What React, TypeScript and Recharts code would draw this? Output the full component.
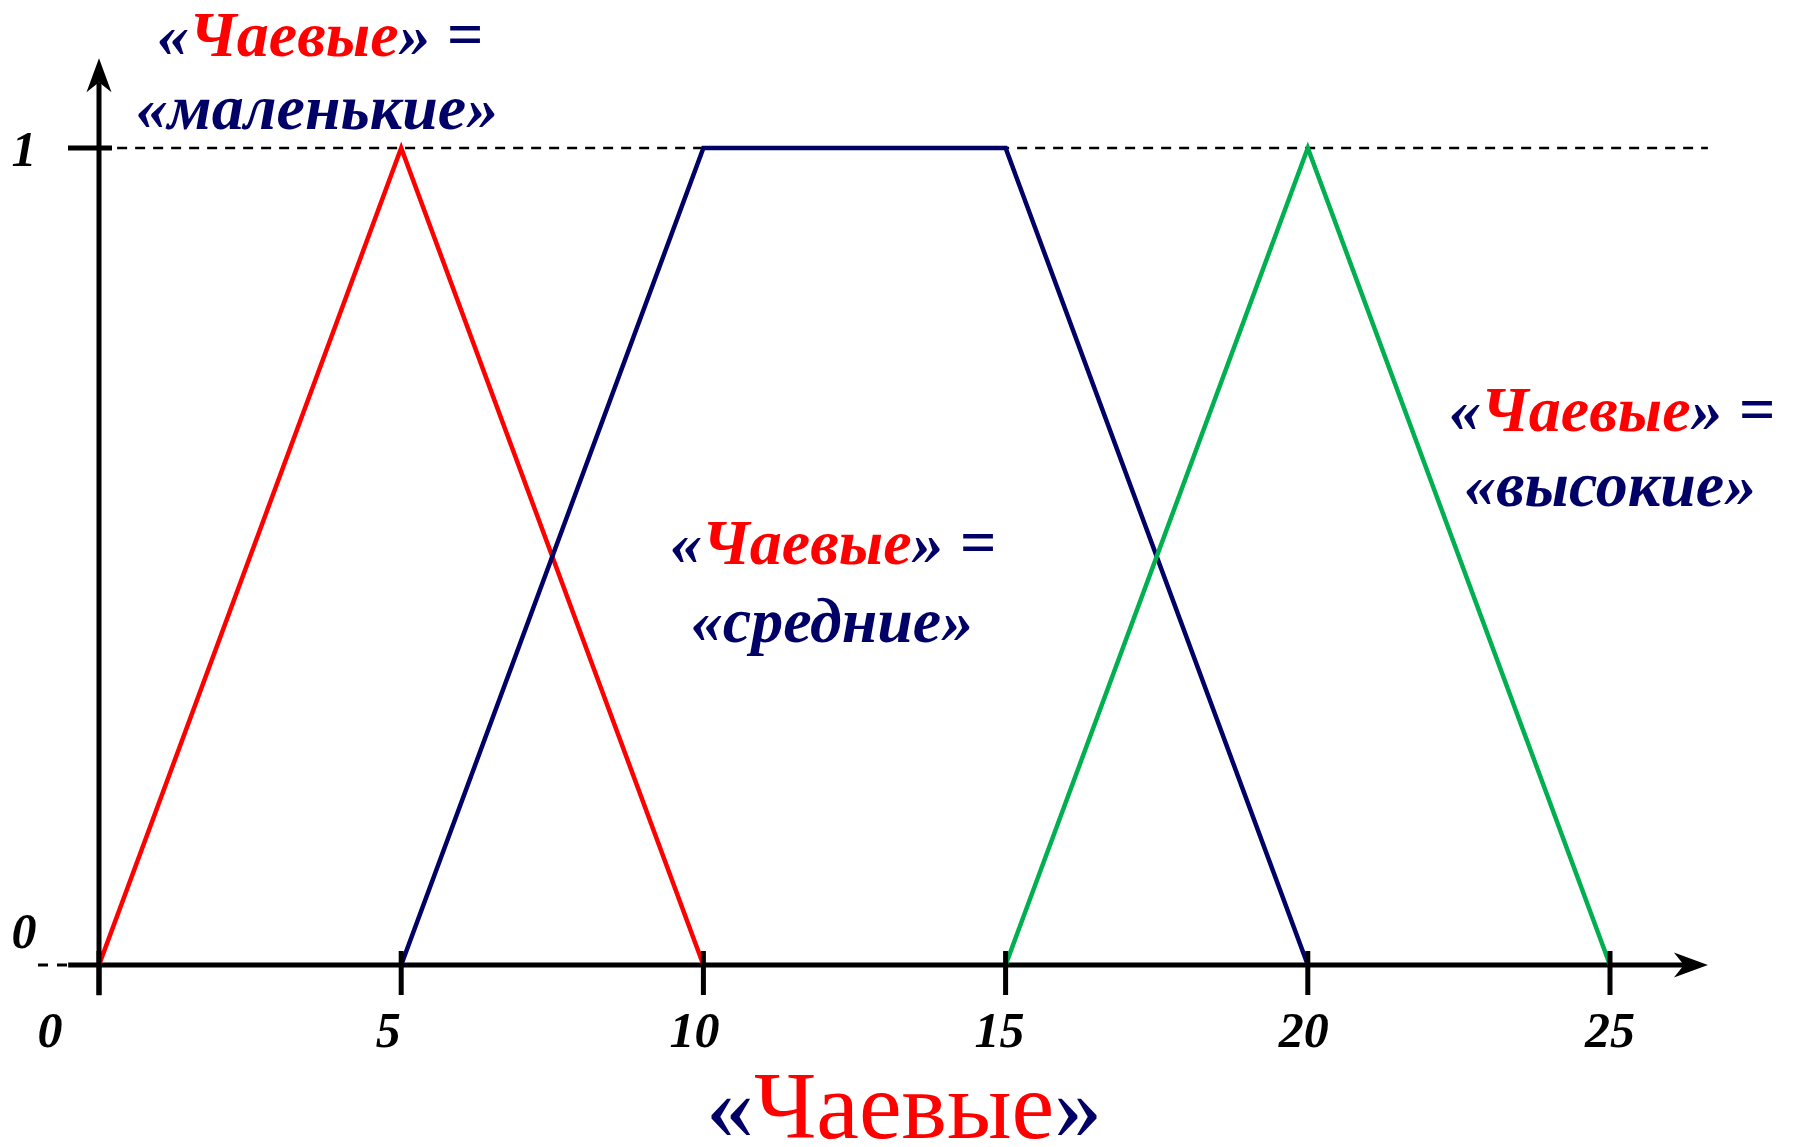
import React from 'react';
import { LineChart, Line, XAxis, YAxis, ReferenceLine } from 'recharts';

const WIDTH = 1795;
const HEIGHT = 1147;

// Membership functions for the linguistic variable «Чаевые»
const smallX = [0, 5, 10];
const smallY = [0, 1, 0];
const mediumX = [5, 10, 15, 20];
const mediumY = [0, 1, 1, 0];
const highX = [15, 20, 25];
const highY = [0, 1, 0];

const xTicks = [0, 5, 10, 15, 20, 25];
const yTicks = [0, 1];

const toPoints = (xs: number[], ys: number[]) => xs.map((x, i) => ({ x, y: ys[i] }));
const smallData = toPoints(smallX, smallY);
const mediumData = toPoints(mediumX, mediumY);
const highData = toPoints(highX, highY);

const RED = '#FF0000';
const NAVY = '#000066';
const GREEN = '#00B050';
const SERIF = '"Liberation Serif", "Times New Roman", serif';

const xLabelShift: Record<number, number> = { 0: -49, 5: -13, 10: -9, 15: -6, 20: -4, 25: 0 };

function XTick(props: any) {
  const { x, y, payload } = props;
  const v = payload.value as number;
  return (
    <g>
      <line x1={x} x2={x} y1={y - 14} y2={y + 30} stroke="#000" strokeWidth={5} />
      <text
        x={x + (xLabelShift[v] ?? 0)}
        y={y + 82}
        textAnchor="middle"
        fontFamily={SERIF}
        fontSize={50}
        fontWeight="bold"
        fontStyle="italic"
        fill="#000"
      >
        {v}
      </text>
    </g>
  );
}

function YTick(props: any) {
  const { x, y, payload } = props;
  const v = payload.value as number;
  const textProps = {
    textAnchor: 'middle' as const,
    fontFamily: SERIF,
    fontSize: 50,
    fontWeight: 'bold',
    fontStyle: 'italic',
    fill: '#000',
  };
  if (v === 1) {
    return (
      <g>
        <line x1={x - 31} x2={x + 13} y1={y} y2={y} stroke="#000" strokeWidth={5} />
        <text x={x - 75} y={y + 18} {...textProps}>1</text>
      </g>
    );
  }
  return (
    <g>
      <line x1={x - 61} x2={x - 32} y1={y} y2={y} stroke="#000" strokeWidth={3} strokeDasharray="10 9" />
      <text x={x - 75} y={y - 17} {...textProps}>0</text>
    </g>
  );
}

// Axis line finished with a notched arrow head at its second end point
function ArrowAxis(props: any) {
  const { x1, y1, x2, y2 } = props;
  const len = Math.hypot(x2 - x1, y2 - y1) || 1;
  const ux = (x2 - x1) / len;
  const uy = (y2 - y1) / len;
  const px = -uy;
  const py = ux;
  const headLen = 34;
  const half = 12.5;
  const notch = 24;
  const bx = x2 - ux * headLen;
  const by = y2 - uy * headLen;
  const nx = x2 - ux * notch;
  const ny = y2 - uy * notch;
  return (
    <g>
      <line x1={x1} y1={y1} x2={nx} y2={ny} stroke="#000" strokeWidth={5} />
      <polygon
        points={`${x2},${y2} ${bx + px * half},${by + py * half} ${nx},${ny} ${bx - px * half},${by - py * half}`}
        fill="#000"
      />
    </g>
  );
}

function Caption({ cx, y1, y2, word }: { cx: number[]; y1: number; y2: number; word: string }) {
  const common = {
    textAnchor: 'middle' as const,
    fontFamily: SERIF,
    fontSize: 64,
    fontWeight: 'bold',
    fontStyle: 'italic',
  };
  return (
    <g>
      <text x={cx[0]} y={y1} {...common} fill={NAVY}>
        «<tspan fill={RED}>Чаевые</tspan>» =
      </text>
      <text x={cx[1]} y={y2} {...common} fill={NAVY}>
        {`«${word}»`}
      </text>
    </g>
  );
}

export default function App() {
  return (
    <div style={{ position: 'absolute', left: 0, top: 0, width: WIDTH, height: HEIGHT, background: '#fff' }}>
      <LineChart
        width={WIDTH}
        height={HEIGHT}
        margin={{ top: 148, right: 185, left: 19, bottom: 82 }}
      >
        <XAxis
          type="number"
          dataKey="x"
          domain={[0, 25]}
          ticks={xTicks}
          interval={0}
          axisLine={false}
          tickLine={false}
          tickSize={0}
          tickMargin={0}
          height={100}
          tick={<XTick />}
        />
        <YAxis
          type="number"
          dataKey="y"
          domain={[0, 1]}
          ticks={yTicks}
          interval={0}
          axisLine={false}
          tickLine={false}
          tickSize={0}
          tickMargin={0}
          width={80}
          tick={<YTick />}
        />
        <ReferenceLine
          segment={[{ x: 0.3, y: 1 }, { x: 26.62, y: 1 }]}
          ifOverflow="visible"
          stroke="#000"
          strokeWidth={2.5}
          strokeDasharray="10 8"
        />
        <ReferenceLine
          segment={[{ x: -0.51, y: 0 }, { x: 26.62, y: 0 }]}
          ifOverflow="visible"
          shape={(p: any) => <ArrowAxis {...p} />}
        />
        <ReferenceLine
          segment={[{ x: 0, y: -0.037 }, { x: 0, y: 1.11 }]}
          ifOverflow="visible"
          shape={(p: any) => <ArrowAxis {...p} />}
        />
        <Line data={smallData} dataKey="y" type="linear" stroke={RED} strokeWidth={4.5} dot={false} activeDot={false} isAnimationActive={false} />
        <Line data={mediumData} dataKey="y" type="linear" stroke={NAVY} strokeWidth={4.5} dot={false} activeDot={false} isAnimationActive={false} />
        <Line data={highData} dataKey="y" type="linear" stroke={GREEN} strokeWidth={4.5} dot={false} activeDot={false} isAnimationActive={false} />
      </LineChart>
      <svg
        width={WIDTH}
        height={HEIGHT}
        style={{ position: 'absolute', left: 0, top: 0, pointerEvents: 'none' }}
      >
        <Caption cx={[320, 317]} y1={56} y2={129} word="маленькие" />
        <Caption cx={[833, 832]} y1={564} y2={642} word="средние" />
        <Caption cx={[1612, 1610]} y1={431} y2={506} word="высокие" />
        <text x={904} y={1138} textAnchor="middle" fontFamily={SERIF} fontSize={96} fill={NAVY}>
          «<tspan fill={RED}>Чаевые</tspan>»
        </text>
      </svg>
    </div>
  );
}
